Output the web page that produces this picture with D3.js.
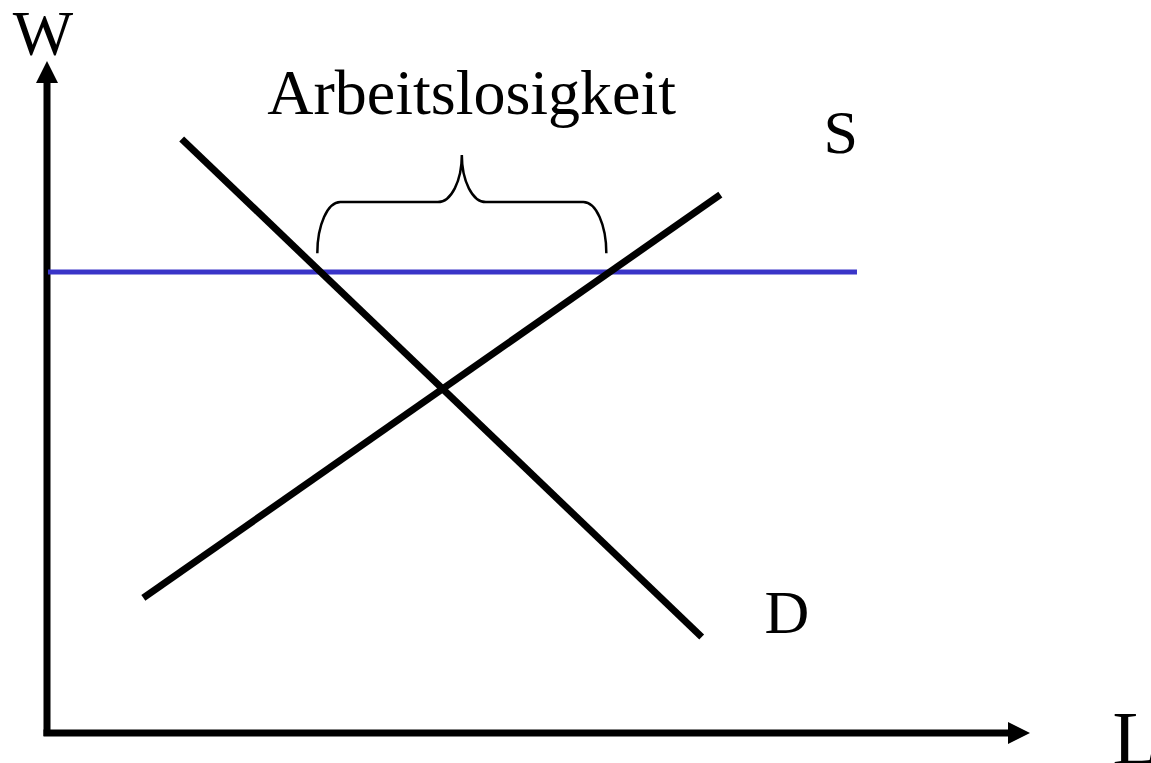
<!DOCTYPE html>
<html>
<head>
<meta charset="utf-8">
<script src="https://cdn.jsdelivr.net/npm/d3@7"></script>
<style>
  html, body { margin: 0; padding: 0; background: #fff; }
  text { font-family: "Liberation Serif", "Times New Roman", serif; fill: #000; }
</style>
</head>
<body>
<div id="chart"></div>
<script>
const width = 1151,
      height = 763;

// curves in axis units (L from 0..100, W from 0..100)
const demand = [{ l: 13.7, w: 88.4 }, { l: 66.6, w: 14.3 }];
const supply = [{ l: 9.8, w: 20.1 }, { l: 68.5, w: 80.1 }];
const minWage = [{ l: 0.1, w: 68.6 }, { l: 82.4, w: 68.6 }];
const gap = { from: 27.5, to: 56.9, base: 71.4, mid: 79.0, tip: 86.0 };

const labels = [
  { text: "W", l: -0.4, w: 100.9, size: 64, anchor: "middle" },
  { text: "L", l: 108.4, w: -4.6, size: 76, anchor: "start" },
  { text: "S", l: 79.0, w: 86.3, size: 62, anchor: "start" },
  { text: "D", l: 73.0, w: 14.9, size: 62, anchor: "start" },
  { text: "Arbeitslosigkeit", l: 43.2, w: 92.1, size: 64, anchor: "middle" }
];

const x = d3.scaleLinear().domain([0, 100]).range([47, 1030]);
const y = d3.scaleLinear().domain([0, 100]).range([733, 61]);

const svg = d3.select("#chart")
  .append("svg")
  .attr("width", width)
  .attr("height", height);

const line = d3.line().x(d => x(d.l)).y(d => y(d.w));

// axes with arrow heads
const head = 22, half = 11;
svg.append("line")
  .attr("x1", x(0)).attr("y1", y(0) + 3)
  .attr("x2", x(0)).attr("y2", y(100) + head - 1)
  .attr("stroke", "#000").attr("stroke-width", 7);
svg.append("line")
  .attr("x1", x(0) - 3.5).attr("y1", y(0))
  .attr("x2", x(100) - head + 1).attr("y2", y(0))
  .attr("stroke", "#000").attr("stroke-width", 7);
svg.append("path")
  .attr("d", `M${x(0)},${y(100)}L${x(0) - half},${y(100) + head}L${x(0) + half},${y(100) + head}Z`)
  .attr("fill", "#000");
svg.append("path")
  .attr("d", `M${x(100)},${y(0)}L${x(100) - head},${y(0) - half}L${x(100) - head},${y(0) + half}Z`)
  .attr("fill", "#000");

// minimum wage line
svg.append("path")
  .attr("d", line(minWage))
  .attr("fill", "none")
  .attr("stroke", "#3a35c8")
  .attr("stroke-width", 5);

// supply and demand
svg.selectAll("path.curve")
  .data([demand, supply])
  .enter()
  .append("path")
  .attr("class", "curve")
  .attr("d", line)
  .attr("fill", "none")
  .attr("stroke", "#000")
  .attr("stroke-width", 7);

// curly brace over the unemployment gap
const k = 0.552;
const x0 = x(gap.from), x1 = x(gap.to), xm = (x0 + x1) / 2;
const yb = y(gap.base), ym = y(gap.mid), yt = y(gap.tip);
const r = 23, rt = 24;
const p = d3.path();
p.moveTo(x0, yb);
p.bezierCurveTo(x0, yb - k * (yb - ym), x0 + r - k * r, ym, x0 + r, ym);
p.lineTo(xm - rt, ym);
p.bezierCurveTo(xm - rt + k * rt, ym, xm, yt + k * (ym - yt), xm, yt);
p.bezierCurveTo(xm, yt + k * (ym - yt), xm + rt - k * rt, ym, xm + rt, ym);
p.lineTo(x1 - r, ym);
p.bezierCurveTo(x1 - r + k * r, ym, x1, yb - k * (yb - ym), x1, yb);
svg.append("path")
  .attr("d", p.toString())
  .attr("fill", "none")
  .attr("stroke", "#000")
  .attr("stroke-width", 2.5);

svg.selectAll("text.label")
  .data(labels)
  .enter()
  .append("text")
  .attr("class", "label")
  .attr("x", d => x(d.l))
  .attr("y", d => y(d.w))
  .attr("text-anchor", d => d.anchor)
  .attr("font-size", d => d.size)
  .text(d => d.text);
</script>
</body>
</html>
